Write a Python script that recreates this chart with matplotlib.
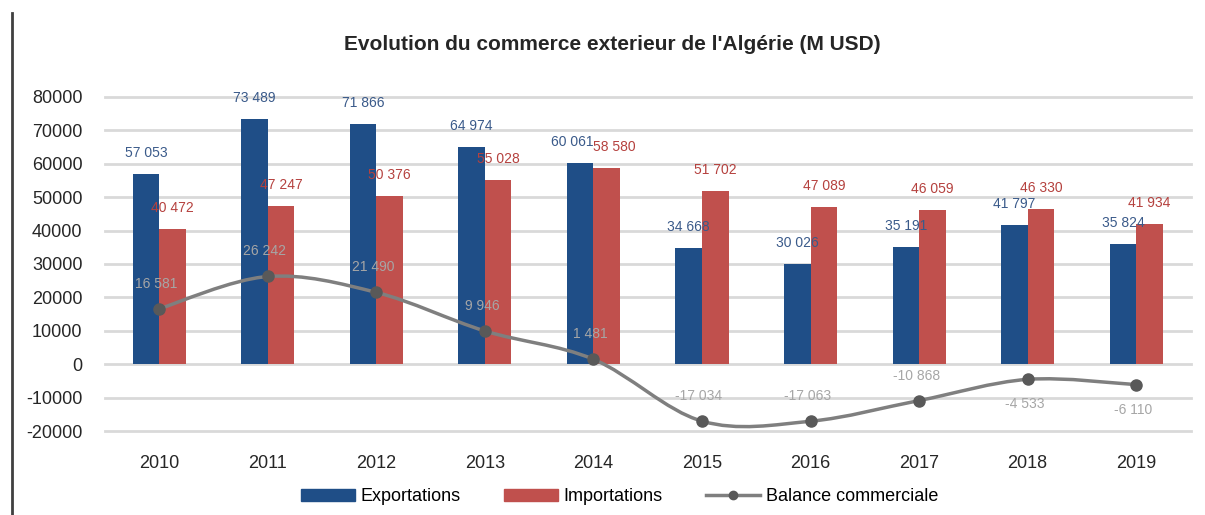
import matplotlib
matplotlib.use("Agg")
import matplotlib.pyplot as plt
from matplotlib.path import Path
from matplotlib.patches import PathPatch, Patch
from matplotlib.lines import Line2D

plt.rcParams["font.family"] = ["Liberation Sans", "DejaVu Sans"]
plt.rcParams["axes.unicode_minus"] = False

years = ["2010", "2011", "2012", "2013", "2014", "2015", "2016", "2017", "2018", "2019"]
exports = [57053, 73489, 71866, 64974, 60061, 34668, 30026, 35191, 41797, 35824]
imports = [40472, 47247, 50376, 55028, 58580, 51702, 47089, 46059, 46330, 41934]
balance = [16581, 26242, 21490, 9946, 1481, -17034, -17063, -10868, -4533, -6110]
export_labels = ["57 053", "73 489", "71 866", "64 974", "60 061", "34 668", "30 026", "35 191", "41 797", "35 824"]
import_labels = ["40 472", "47 247", "50 376", "55 028", "58 580", "51 702", "47 089", "46 059", "46 330", "41 934"]
balance_labels = ["16 581", "26 242", "21 490", "9 946", "1 481", "-17 034", "-17 063", "-10 868", "-4 533", "-6 110"]
balance_below = [False, False, False, False, False, False, False, False, True, True]

blue = "#1f4e87"
red = "#c0504d"
grey = "#7f7f7f"

fig = plt.figure(figsize=(12.05, 5.15), dpi=100)
ax = fig.add_axes([0.087, 0.163, 0.901, 0.649])

x = list(range(len(years)))
w = 0.245
ax.bar([i - w / 2 for i in x], exports, w, color=blue, zorder=2)
ax.bar([i + w / 2 for i in x], imports, w, color=red, zorder=2)

# smoothed line (catmull-rom -> bezier) like excel
pts = list(zip(x, balance))
verts = [pts[0]]
codes = [Path.MOVETO]
for i in range(len(pts) - 1):
    p0 = pts[i - 1] if i > 0 else pts[i]
    p1 = pts[i]
    p2 = pts[i + 1]
    p3 = pts[i + 2] if i + 2 < len(pts) else pts[i + 1]
    c1 = (p1[0] + (p2[0] - p0[0]) / 6, p1[1] + (p2[1] - p0[1]) / 6)
    c2 = (p2[0] - (p3[0] - p1[0]) / 6, p2[1] - (p3[1] - p1[1]) / 6)
    verts += [c1, c2, p2]
    codes += [Path.CURVE4] * 3
ax.add_patch(PathPatch(Path(verts, codes), fill=False, edgecolor=grey, lw=2.5, zorder=3))
ax.plot(x, balance, "o", color="#595959", ms=8, zorder=4)

for i in x:
    nudge = 8 if years[i] == "2014" else 0
    ax.annotate(export_labels[i], (i - w / 2, exports[i]), xytext=(-nudge, 14), textcoords="offset pixels",
                ha="center", va="bottom", fontsize=10, color="#3a5a8a", annotation_clip=False)
    ax.annotate(import_labels[i], (i + w / 2, imports[i]), xytext=(nudge, 14), textcoords="offset pixels",
                ha="center", va="bottom", fontsize=10, color="#b5413e", annotation_clip=False)
    off = -18 if balance_below[i] else 18
    ax.annotate(balance_labels[i], (i, balance[i]), xytext=(-3, off), textcoords="offset pixels",
                ha="center", va="top" if balance_below[i] else "bottom", fontsize=10,
                color="#a6a6a6", zorder=5)

ax.set_xlim(-0.5, 9.5)
ax.set_ylim(-20000, 80000)
ax.set_yticks(range(-20000, 80001, 10000))
ax.set_xticks(x)
ax.set_xticklabels(years)
ax.yaxis.grid(True, color="#d9d9d9", lw=2)
for gl in ax.get_ygridlines():
    gl.set_clip_on(False)
ax.set_axisbelow(True)
for s in ax.spines.values():
    s.set_visible(False)
ax.tick_params(axis="y", length=0, pad=16, labelsize=13, labelcolor="#262626")
ax.tick_params(axis="x", length=0, pad=17, labelsize=13, labelcolor="#262626")

fig.text(0.508, 0.913, "Evolution du commerce exterieur de l'Algérie (M USD)", ha="center", va="center",
         fontsize=15, fontweight="bold", color="#262626")

handles = [Patch(color=blue), Patch(color=red),
           Line2D([], [], color=grey, lw=2.5, marker="o", ms=6, markerfacecolor="#595959", markeredgecolor="#595959")]
fig.legend(handles, ["Exportations", "Importations", "Balance commerciale"], loc="center",
           bbox_to_anchor=(0.514, 0.035), ncol=3, frameon=False, fontsize=13,
           handlelength=3.0, handleheight=0.6, columnspacing=2.4, handletextpad=0.3)

fig.add_artist(Line2D([0.010, 0.010], [0.0, 0.975], color="#404040", lw=2, transform=fig.transFigure))

fig.savefig("out.png", dpi=100)
